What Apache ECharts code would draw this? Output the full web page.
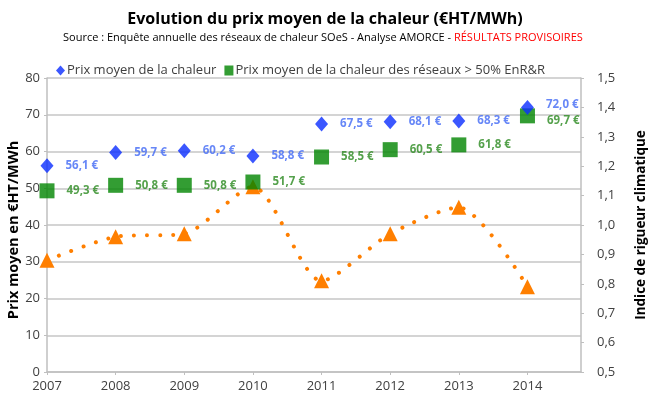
<!DOCTYPE html>
<html><head><meta charset="utf-8">
<script src="https://cdn.jsdelivr.net/npm/echarts@6/dist/echarts.min.js"></script>
<style>html,body{margin:0;padding:0;background:#fff}#c{width:650px;height:402px}</style>
</head><body><div id="c"></div>
<script>
const years = [2007, 2008, 2009, 2010, 2011, 2012, 2013, 2014];
const prixMoyen = [56.1, 59.7, 60.2, 58.8, 67.5, 68.1, 68.3, 72.0];
const prixEnR = [49.3, 50.8, 50.8, 51.7, 58.5, 60.5, 61.8, 69.7];
const rigueur = [0.88, 0.96, 0.97, 1.13, 0.81, 0.97, 1.06, 0.79];
const seriesNames = ['Prix moyen de la chaleur', 'Prix moyen de la chaleur des réseaux > 50% EnR&R', 'Indice de rigueur climatique'];

const FONT = 'Open Sans';
const fmtEur = v => v.toFixed(1).replace('.', ',') + ' €';
// last labels nudged apart (as in the original) – style only
const pair = (arr, lastOffset) => years.map((y, i) => {
  const item = { value: [y, arr[i]] };
  if (lastOffset && i === years.length - 1) item.label = { offset: lastOffset };
  return item;
});

const chart = echarts.init(document.getElementById('c'));
chart.setOption({
  animation: false,
  textStyle: { fontFamily: FONT },
  title: [
    { text: 'Evolution du prix moyen de la chaleur (€HT/MWh)', left: 'center', top: 6,
      textStyle: { fontFamily: FONT, fontSize: 16, fontWeight: 'bold', color: '#000' } },
    { text: '{a|Source : Enquête annuelle des réseaux de chaleur SOeS - Analyse AMORCE - }{b|RÉSULTATS PROVISOIRES}',
      left: 58, top: 27,
      textStyle: { fontWeight: 'normal', rich: {
        a: { fontFamily: FONT, fontSize: 11, fontWeight: 'normal', color: '#000' },
        b: { fontFamily: FONT, fontSize: 11, fontWeight: 'normal', color: '#ff0000' } } } }
  ],
  legend: {
    data: [
      { name: seriesNames[0], icon: 'diamond' },
      { name: seriesNames[1], icon: 'rect' }
    ],
    left: 51, top: 59, itemWidth: 9, itemHeight: 10, itemGap: 8,
    textStyle: { fontFamily: FONT, fontSize: 13, color: '#404040', padding: [0, 0, 0, -3] }
  },
  grid: { left: 47, right: 69, top: 78, bottom: 30, containLabel: false, outerBoundsMode: 'none' },
  xAxis: {
    type: 'value', min: 2007, max: 2014.78, interval: 1,
    axisLine: { show: true, lineStyle: { color: '#bfbfbf', width: 1.5 } },
    axisTick: { show: true, length: 3, lineStyle: { color: '#bfbfbf' } },
    splitLine: { show: false },
    axisLabel: { color: '#404040', fontSize: 13, margin: 8, showMaxLabel: false,
      formatter: v => Number.isInteger(v) ? String(v) : '' }
  },
  yAxis: [
    { type: 'value', min: 0, max: 80, interval: 10,
      name: 'Prix moyen en €HT/MWh', nameLocation: 'middle', nameRotate: 90, nameGap: 26,
      nameMoveOverlap: false,
      nameTextStyle: { fontFamily: FONT, fontSize: 14.5, fontWeight: 'bold', color: '#000', padding: [0, 10, 0, 0] },
      axisLine: { show: true, lineStyle: { color: '#bfbfbf', width: 1.5 } },
      axisTick: { show: true, length: 3, lineStyle: { color: '#bfbfbf' } },
      splitLine: { lineStyle: { color: '#c6c6c6', width: 1.5 } },
      axisLabel: { color: '#404040', fontSize: 13, margin: 7 } },
    { type: 'value', min: 0.5, max: 1.5, interval: 0.1, position: 'right',
      name: 'Indice de rigueur climatique', nameLocation: 'middle', nameRotate: 90, nameGap: 53,
      nameMoveOverlap: false,
      nameTextStyle: { fontFamily: FONT, fontSize: 13.5, fontWeight: 'bold', color: '#000' },
      axisLine: { show: true, lineStyle: { color: '#bfbfbf', width: 1.5 } },
      axisTick: { show: true, length: 3, lineStyle: { color: '#bfbfbf' } },
      splitLine: { show: false },
      axisLabel: { color: '#404040', fontSize: 13, margin: 16,
        formatter: v => v.toFixed(1).replace('.', ',') } }
  ],
  series: [
    { name: seriesNames[2], type: 'line', yAxisIndex: 1, data: pair(rigueur),
      smooth: 0.25, symbol: 'triangle', symbolSize: 15,
      itemStyle: { color: '#ff7f00' },
      lineStyle: { color: '#ff7f00', width: 4, type: [0.01, 13], cap: 'round' },
      z: 2 },
    { name: seriesNames[1], type: 'scatter', data: pair(prixEnR, [0, 5]),
      symbol: 'rect', symbolSize: 15, itemStyle: { color: '#008500' },
      label: { show: true, position: 'right', distance: 12, formatter: p => fmtEur(p.value[1]),
        color: '#2a8a1f', fontWeight: 'bold', fontSize: 11.5, fontFamily: FONT },
      z: 3 },
    { name: seriesNames[0], type: 'scatter', data: pair(prixMoyen, [0, -3]),
      symbol: 'diamond', symbolSize: [13, 15], itemStyle: { color: '#0a2dff' },
      label: { show: true, position: 'right', distance: 12, formatter: p => fmtEur(p.value[1]),
        color: '#4169f5', fontWeight: 'bold', fontSize: 11.5, fontFamily: FONT },
      z: 4 }
  ]
});
</script></body></html>
